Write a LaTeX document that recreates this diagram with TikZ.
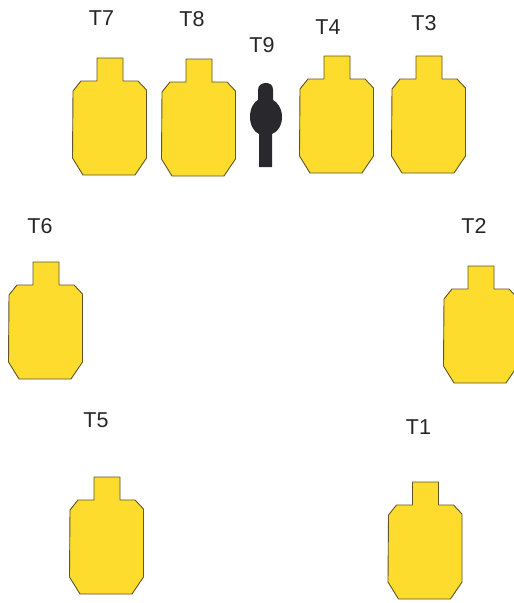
\documentclass[tikz,border=0pt]{standalone}
\usepackage{fontspec}
\setmainfont{Liberation Sans}
\definecolor{tgyellow}{RGB}{253,220,45}
\definecolor{tgedge}{RGB}{95,85,40}
\definecolor{tgblack}{RGB}{40,40,45}
\tikzset{
  x=1pt,y=-1pt,
  lab/.style={font=\fontsize{21.5}{24}\selectfont,text=black!85,inner sep=0pt},
  pics/target/.style={code={
    \draw[fill=tgyellow,draw=tgedge,line width=0.9pt,line join=round]
      (0,0) -- (26,0) -- (26,23) -- (41,23) -- (49.5,32) -- (49.5,100) -- (38,117)
      -- (-14,117) -- (-24.5,100) -- (-24,33) -- (-16,23) -- (0,23) -- cycle;
  }}
}
\begin{document}
\begin{tikzpicture}
\useasboundingbox (0,0) rectangle (514,603);
\fill[white] (0,0) rectangle (514,603);
\pic at (97,58) {target};
\pic at (186,59) {target};
\pic at (324,56) {target};
\pic at (416,56) {target};
\pic at (33,262) {target};
\pic at (468,266) {target};
\pic at (94,477) {target};
\pic at (412.5,482) {target};
\fill[tgblack] (259,167) -- (272,167) -- (272,134) .. controls (278,132) and (282,125) .. (282,117)
  .. controls (282,108) and (277,102) .. (273,100) -- (273,90) .. controls (273,85) and (270,83) .. (266,83)
  .. controls (262,83) and (258,85) .. (258,90) -- (258,100) .. controls (254,102) and (250,108) .. (250,117)
  .. controls (250,125) and (254,132) .. (259,134) -- cycle;
\node[lab] (t7) at (101.5,18) {T7};
\node[lab] (t8) at (192,19) {T8};
\node[lab] (t9) at (262,45) {T9};
\node[lab] (t4) at (328,27) {T4};
\node[lab] (t3) at (424,23) {T3};
\node[lab] (t6) at (40,226) {T6};
\node[lab] (t2) at (474,226) {T2};
\node[lab] (t5) at (96,420) {T5};
\node[lab] (t1) at (418.5,427) {T1};
\end{tikzpicture}
\end{document}
